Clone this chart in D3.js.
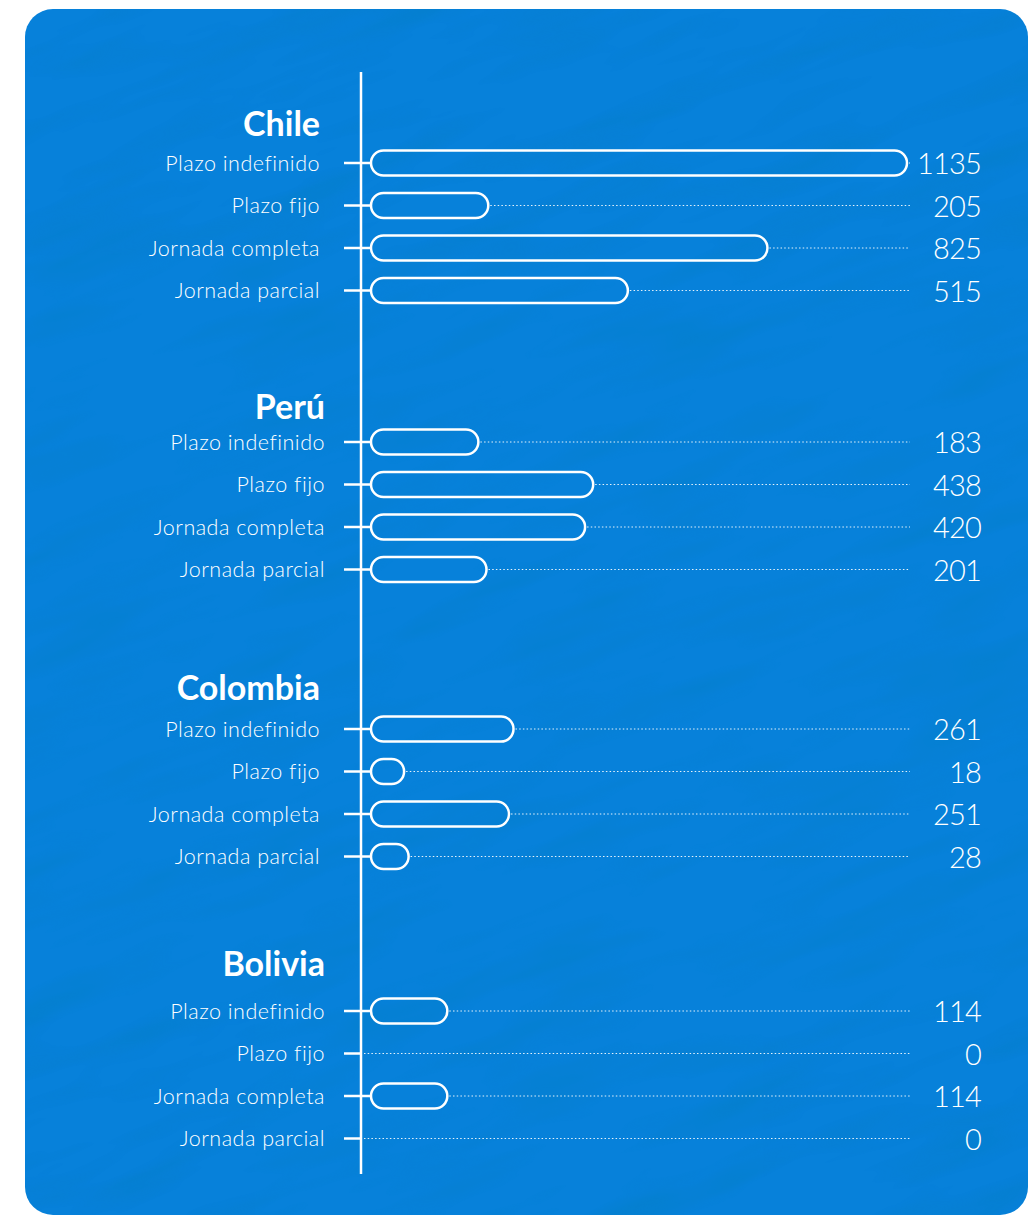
<!DOCTYPE html>
<html>
<head>
<meta charset="utf-8">
<script src="https://cdn.jsdelivr.net/npm/d3@7"></script>
<style>
  body { margin: 0; background: #ffffff; }
  svg { display: block; }
  .lbl { font-family: Lato, "Open Sans", sans-serif; font-weight: 300; fill: #ffffff; }
  .ttl { font-family: Lato, "Open Sans", sans-serif; font-weight: 700; fill: #ffffff; }
</style>
</head>
<body>
<svg id="chart"></svg>
<script>

// data
var countries = [ 'Chile', 'Perú', 'Colombia', 'Bolivia' ];
var categories = [ 'Plazo indefinido', 'Plazo fijo', 'Jornada completa', 'Jornada parcial' ];
var chileValues = [ 1135, 205, 825, 515 ];
var peruValues = [ 183, 438, 420, 201 ];
var colombiaValues = [ 261, 18, 251, 28 ];
var boliviaValues = [ 114, 0, 114, 0 ];

var seriesValues = [ chileValues, peruValues, colombiaValues, boliviaValues ];

// layout
var width = 1029,
    height = 1215;

var groupTop = [ 163, 442, 729, 1011 ];   // y of first row in each group
var titleY = [ 136, 419, 700, 976 ];      // title baseline
var labelX = [ 320, 325, 320, 325 ];
var rowStep = 42.5;
var axisX = 361;
var barX = 371;
var barH = 25;
var leaderEnd = 910;
var valueX = 981;

var svg = d3.select('#chart')
    .attr('width', width)
    .attr('height', height);

/* background texture */

var defs = svg.append('defs');

var filter = defs.append('filter')
    .attr('id', 'grain')
    .attr('x', 0).attr('y', 0)
    .attr('width', '100%').attr('height', '100%');

filter.append('feTurbulence')
    .attr('type', 'fractalNoise')
    .attr('baseFrequency', '0.006 0.03')
    .attr('numOctaves', 3)
    .attr('seed', 7)
    .attr('result', 'noise');

filter.append('feColorMatrix')
    .attr('in', 'noise')
    .attr('type', 'matrix')
    .attr('values', '0 0 0 0 0  0 0 0 0 0.2  0 0 0 0 0.45  0 0 0 -1.4 0.75');

defs.append('clipPath')
    .attr('id', 'panelClip')
    .append('rect')
    .attr('x', 25).attr('y', 9)
    .attr('width', 1003).attr('height', 1206)
    .attr('rx', 28).attr('ry', 28);

var panel = svg.append('g').attr('clip-path', 'url(#panelClip)');

panel.append('rect')
    .attr('x', 25).attr('y', 9)
    .attr('width', 1003).attr('height', 1206)
    .style('fill', '#0781da');

panel.append('g')
    .attr('transform', 'rotate(-20 520 610)')
    .append('rect')
    .attr('x', -300).attr('y', -300)
    .attr('width', 1700).attr('height', 1800)
    .attr('filter', 'url(#grain)')
    .style('opacity', 0.4);

/* scales */

var x = d3.scaleLinear()
    .domain([ 0, d3.max( seriesValues, function ( s ) { return d3.max( s ); } ) ])
    .range([ barH, 536 ]);

var rowY = function ( g, i ) { return groupTop[ g ] + i * rowStep; };

/* axis line */

svg.append('line')
    .attr('x1', axisX).attr('x2', axisX)
    .attr('y1', 72).attr('y2', 1174)
    .style('stroke', '#ffffff')
    .style('stroke-width', 2.5);

/* groups */

countries.forEach( function ( country, g ) {

    var grp = svg.append('g').attr('class', 'group');

    grp.append('text')
        .attr('class', 'ttl')
        .attr('x', labelX[ g ])
        .attr('y', titleY[ g ])
        .attr('text-anchor', 'end')
        .style('font-size', '34px')
        .text( country );

    var rows = grp.selectAll('.row')
        .data( seriesValues[ g ].map( function ( v, i ) { return { cat: categories[ i ], value: v, i: i }; } ) )
        .enter().append('g')
        .attr('class', 'row')
        .attr('transform', function ( d ) { return 'translate(0,' + rowY( g, d.i ) + ')'; });

    rows.append('text')
        .attr('class', 'lbl')
        .attr('x', labelX[ g ])
        .attr('y', 0)
        .attr('dy', '0.35em')
        .attr('text-anchor', 'end')
        .style('font-size', '21.5px')
        .style('letter-spacing', '0.5px')
        .text( function ( d ) { return d.cat; } );

    // tick
    rows.append('line')
        .attr('x1', 344)
        .attr('x2', function ( d ) { return d.value > 0 ? barX : axisX; })
        .attr('y1', 0).attr('y2', 0)
        .style('stroke', '#ffffff')
        .style('stroke-width', 2.5);

    // dotted leader
    rows.append('line')
        .attr('x1', function ( d ) { return d.value > 0 ? barX + x( d.value ) + 2 : axisX + 3; })
        .attr('x2', leaderEnd)
        .attr('y1', 0).attr('y2', 0)
        .style('stroke', '#ffffff')
        .style('stroke-width', 1)
        .style('stroke-dasharray', '1.5,2.2')
        .style('opacity', function ( d ) { return barX + x( d.value ) + 2 < leaderEnd ? 0.9 : 0; });

    // pill bar
    rows.filter( function ( d ) { return d.value > 0; } )
        .append('rect')
        .attr('x', barX)
        .attr('y', -barH / 2)
        .attr('width', function ( d ) { return x( d.value ); })
        .attr('height', barH)
        .attr('rx', barH / 2)
        .attr('ry', barH / 2)
        .style('fill', 'none')
        .style('stroke', '#ffffff')
        .style('stroke-width', 2.5);

    rows.append('text')
        .attr('class', 'lbl')
        .attr('x', valueX)
        .attr('y', 0)
        .attr('dy', '0.38em')
        .attr('text-anchor', 'end')
        .style('font-size', '29px')
        .style('letter-spacing', '-0.8px')
        .text( function ( d ) { return d.value; } );

});

</script>
</body>
</html>
